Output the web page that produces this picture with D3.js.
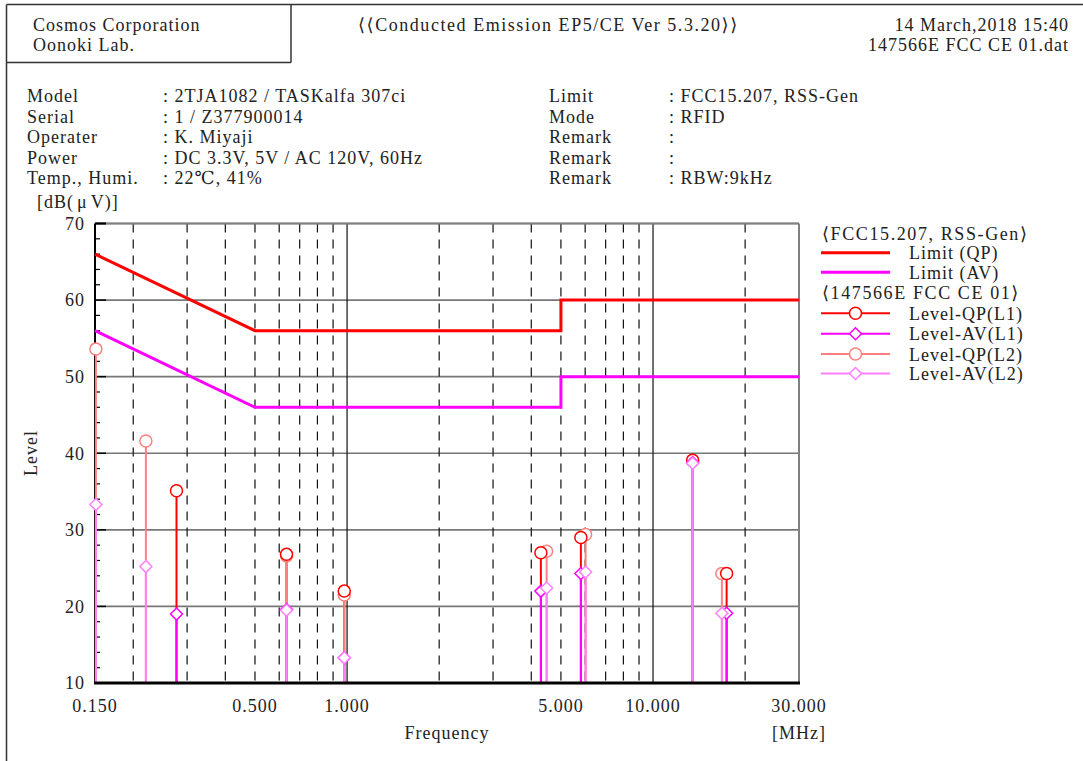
<!DOCTYPE html>
<html>
<head>
<meta charset="utf-8">
<script src="https://cdn.jsdelivr.net/npm/d3@7"></script>
<style>
  html, body { margin: 0; padding: 0; background: #fff; }
  svg { display: block; }
  text { font-family: "Liberation Serif", "DejaVu Serif", serif; fill: #222; letter-spacing: 1px; }
</style>
</head>
<body>
<div id="chart"></div>
<script>
// ---- measurement data ----
// Limit lines (FCC15.207 / RSS-Gen), frequency in MHz, level in dBuV
const limitFreq = [0.15, 0.5, 5, 5, 30];
const limitQP = [66, 56, 56, 60, 60];
const limitAV = [56, 46, 46, 50, 50];

// Line L1 peaks
const l1Freq = [0.277, 0.634, 0.979, 4.30, 5.81, 13.47, 17.40];
const l1QP   = [35.1, 26.8, 22.0, 27.0, 29.0, 39.1, 24.3];
const l1AV   = [19.0, 19.6, 13.3, 22.0, 24.3, 38.8, 19.1];

// Line L2 peaks
const l2Freq = [0.151, 0.220, 0.634, 0.979, 4.49, 6.02, 13.47, 16.79];
const l2QP   = [53.6, 41.6, 26.6, 21.5, 27.2, 29.4, 39.0, 24.3];
const l2AV   = [33.3, 25.2, 19.5, 13.3, 22.4, 24.5, 38.7, 19.1];

// Axis ticks
const xTickValues = [0.15, 0.5, 1, 5, 10, 30];
const xTickLabels = ["0.150", "0.500", "1.000", "5.000", "10.000", "30.000"];
const xDashedGrid = [0.2, 0.3, 0.4, 0.5, 0.6, 0.7, 0.8, 0.9, 2, 3, 4, 5, 6, 7, 8, 9, 20];
const xSolidGrid = [1, 10];
const yTickValues = [10, 20, 30, 40, 50, 60, 70];

// Header / info texts
const infoLeftLabels = ["Model", "Serial", "Operater", "Power", "Temp., Humi."];
const infoLeftValues = [": 2TJA1082 / TASKalfa 307ci", ": 1 / Z377900014", ": K. Miyaji", ": DC 3.3V, 5V / AC 120V, 60Hz", ": 22℃, 41%"];
const infoRightLabels = ["Limit", "Mode", "Remark", "Remark", "Remark"];
const infoRightValues = [": FCC15.207, RSS-Gen", ": RFID", ":", ":", ": RBW:9kHz"];

const W = 1083, H = 761;
const svg = d3.select("#chart").append("svg").attr("width", W).attr("height", H);

const plot = { left: 95, right: 799, top: 223.5, bottom: 683 };
const x = d3.scaleLog().domain([0.15, 30]).range([plot.left, plot.right]);
const y = d3.scaleLinear().domain([10, 70]).range([plot.bottom, plot.top]);

const RED = "#ff0000", MAG = "#ff00ff", SALMON = "#ff8080", PINK = "#ff80ff";

// ---- page frame and header ----
const frame = svg.append("g").attr("stroke", "#333").attr("stroke-width", 1.5).attr("fill", "none");
frame.append("line").attr("x1", 6.5).attr("y1", 4.5).attr("x2", W).attr("y2", 4.5);
frame.append("line").attr("x1", 6.5).attr("y1", 4.5).attr("x2", 6.5).attr("y2", H);
frame.append("line").attr("x1", 291).attr("y1", 4.5).attr("x2", 291).attr("y2", 62.5);
frame.append("line").attr("x1", 6.5).attr("y1", 62.5).attr("x2", 291).attr("y2", 62.5);

const fs = 18;
function txt(t, xx, yy, anchor) {
  return svg.append("text").attr("x", xx).attr("y", yy)
    .attr("font-size", fs).attr("text-anchor", anchor || "start").text(t);
}
txt("Cosmos Corporation", 33, 31);
txt("Oonoki Lab.", 33, 51);
txt("⟨⟨Conducted Emission EP5/CE Ver 5.3.20⟩⟩", 358, 31).style("letter-spacing", "1.55px");
txt("14 March,2018 15:40", 1069, 31, "end");
txt("147566E FCC CE 01.dat", 1069, 51, "end");

infoLeftLabels.forEach((t, i) => txt(t, 27, 102 + i * 20.5));
infoLeftValues.forEach((t, i) => txt(t, 163, 102 + i * 20.5));
infoRightLabels.forEach((t, i) => txt(t, 549, 102 + i * 20.5));
infoRightValues.forEach((t, i) => txt(t, 669, 102 + i * 20.5));

const unit = txt("[dB(", 37, 208);
unit.append("tspan").attr("dx", 3).text("μ");
unit.append("tspan").attr("dx", 3).text("V)]");

// ---- grid ----
const grid = svg.append("g");
grid.selectAll("line.hg").data(yTickValues.filter(v => v > 10)).join("line")
  .attr("x1", plot.left).attr("x2", plot.right)
  .attr("y1", d => y(d)).attr("y2", d => y(d))
  .attr("stroke", "#777").attr("stroke-width", 1.6);
grid.selectAll("line.vd").data(xDashedGrid).join("line")
  .attr("x1", d => x(d)).attr("x2", d => x(d))
  .attr("y1", plot.top).attr("y2", plot.bottom)
  .attr("stroke", "#111").attr("stroke-width", 1.2).attr("stroke-dasharray", "9,7");
grid.selectAll("line.vs").data(xSolidGrid).join("line")
  .attr("x1", d => x(d)).attr("x2", d => x(d))
  .attr("y1", plot.top).attr("y2", plot.bottom)
  .attr("stroke", "#111").attr("stroke-width", 1.2);
// right border
grid.append("line").attr("x1", plot.right).attr("x2", plot.right)
  .attr("y1", plot.top).attr("y2", plot.bottom).attr("stroke", "#808080").attr("stroke-width", 2);

// ---- axes ----
const ax = svg.append("g");
// y ticks: major every 10, minor every 2
const minor = d3.range(12, 70, 2).filter(v => v % 10 !== 0);
ax.selectAll("line.mj").data(yTickValues).join("line")
  .attr("x1", plot.left).attr("x2", plot.left + 11)
  .attr("y1", d => y(d)).attr("y2", d => y(d)).attr("stroke", "#000").attr("stroke-width", 1.5);
ax.selectAll("line.mn").data(minor).join("line")
  .attr("x1", plot.left).attr("x2", plot.left + 5)
  .attr("y1", d => y(d)).attr("y2", d => y(d)).attr("stroke", "#000").attr("stroke-width", 1.2);
// top border
ax.append("line").attr("x1", plot.left).attr("x2", plot.right)
  .attr("y1", plot.top).attr("y2", plot.top).attr("stroke", "#808080").attr("stroke-width", 2);
ax.append("line").attr("x1", plot.left).attr("x2", plot.left + 11)
  .attr("y1", plot.top).attr("y2", plot.top).attr("stroke", "#000").attr("stroke-width", 2);
// left axis & bottom axis
ax.append("line").attr("x1", plot.left).attr("x2", plot.left)
  .attr("y1", plot.top).attr("y2", plot.bottom).attr("stroke", "#000").attr("stroke-width", 2);

// ---- limit lines ----
const lineGen = (vals) => d3.line().x((d, i) => x(limitFreq[i])).y(d => y(d))(vals);
svg.append("path").attr("d", lineGen(limitQP)).attr("fill", "none").attr("stroke", RED).attr("stroke-width", 3);
svg.append("path").attr("d", lineGen(limitAV)).attr("fill", "none").attr("stroke", MAG).attr("stroke-width", 3);

// ---- measured peaks ----
const series = [
  { f: l1Freq, v: l1QP, c: RED, m: "circle" },
  { f: l1Freq, v: l1AV, c: MAG, m: "diamond" },
  { f: l2Freq, v: l2QP, c: SALMON, m: "circle" },
  { f: l2Freq, v: l2AV, c: PINK, m: "diamond" }
];
const stems = svg.append("g");
series.forEach(s => {
  stems.selectAll(null).data(s.v).join("line")
    .attr("x1", (d, i) => x(s.f[i])).attr("x2", (d, i) => x(s.f[i]))
    .attr("y1", d => y(d)).attr("y2", plot.bottom)
    .attr("stroke", s.c).attr("stroke-width", 2);
});
function marker(g, m, cx, cy, c) {
  if (m === "circle") {
    g.append("circle").attr("cx", cx).attr("cy", cy).attr("r", 6)
      .attr("fill", "#fff").attr("stroke", c).attr("stroke-width", 1.5);
  } else {
    const r = 6;
    g.append("path").attr("d", `M${cx},${cy - r}L${cx + r},${cy}L${cx},${cy + r}L${cx - r},${cy}Z`)
      .attr("fill", "#fff").attr("stroke", c).attr("stroke-width", 1.5);
  }
}
const marks = svg.append("g");
[series[2], series[0], series[1], series[3]].forEach(s => {
  s.v.forEach((d, i) => marker(marks, s.m, x(s.f[i]), y(d), s.c));
});

// bottom axis drawn last
svg.append("line").attr("x1", plot.left - 1).attr("x2", plot.right + 1)
  .attr("y1", plot.bottom).attr("y2", plot.bottom).attr("stroke", "#000").attr("stroke-width", 3);

svg.selectAll("text.yl").data(yTickValues).join("text")
  .attr("x", 85).attr("y", d => y(d)).attr("dy", "0.35em")
  .attr("text-anchor", "end").attr("font-size", fs).text(d => d);
svg.selectAll("text.xl").data(xTickValues).join("text")
  .attr("x", d => x(d)).attr("y", 712)
  .attr("text-anchor", "middle").attr("font-size", fs).text((d, i) => xTickLabels[i]);

txt("Frequency", 447, 739, "middle");
txt("[MHz]", 799, 739, "middle");
svg.append("text").attr("transform", "translate(37,453) rotate(-90)")
  .attr("text-anchor", "middle").attr("font-size", fs).text("Level");

// ---- legend ----
const lg = svg.append("g");
const lx1 = 821, lx2 = 890, ltx = 909;
txt("⟨FCC15.207, RSS-Gen⟩", 822, 240).style("letter-spacing", "1.6px");
const legendRows = [
  { y: 252.7, c: RED, w: 3, label: "Limit (QP)" },
  { y: 272.3, c: MAG, w: 3, label: "Limit (AV)" },
  { y: 313.3, c: RED, w: 2, label: "Level-QP(L1)", m: "circle" },
  { y: 333.8, c: MAG, w: 2, label: "Level-AV(L1)", m: "diamond" },
  { y: 354, c: SALMON, w: 2, label: "Level-QP(L2)", m: "circle" },
  { y: 373.5, c: PINK, w: 2, label: "Level-AV(L2)", m: "diamond" }
];
txt("⟨147566E FCC CE 01⟩", 822, 299).style("letter-spacing", "1.6px");
legendRows.forEach(r => {
  lg.append("line").attr("x1", lx1).attr("x2", lx2).attr("y1", r.y).attr("y2", r.y)
    .attr("stroke", r.c).attr("stroke-width", r.w);
  if (r.m) marker(lg, r.m, 855.5, r.y, r.c);
  txt(r.label, ltx, r.y + 6.5);
});
</script>
</body>
</html>
